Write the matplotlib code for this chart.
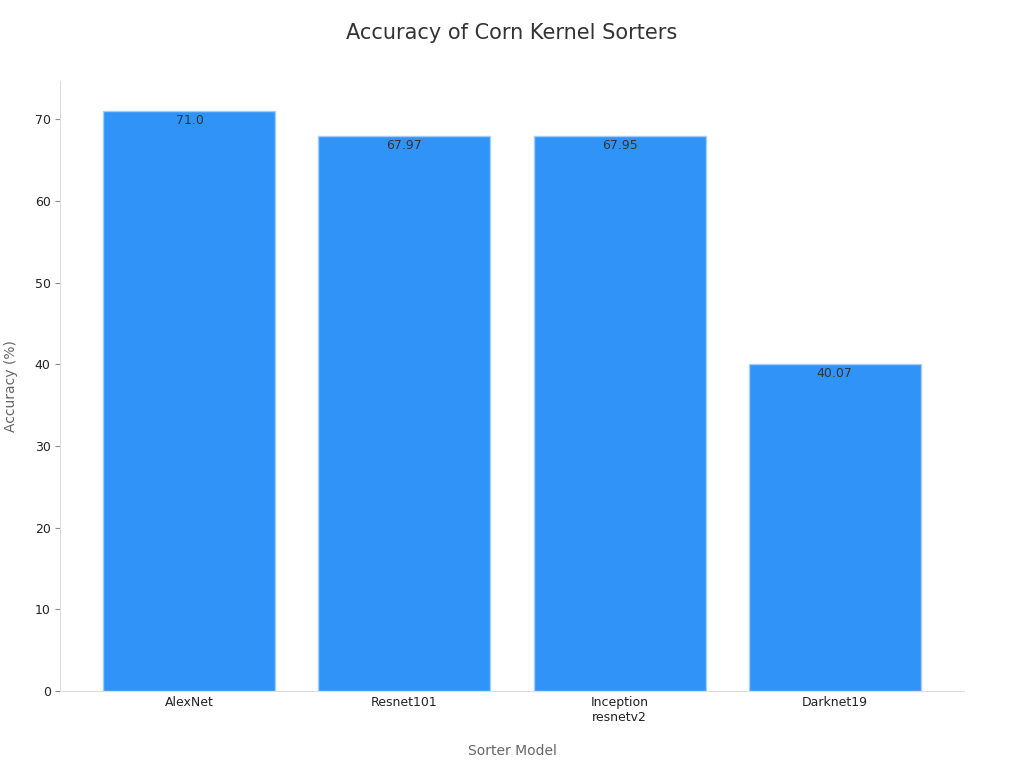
import matplotlib.pyplot as plt

models = ['AlexNet', 'Resnet101', 'Inception\nresnetv2', 'Darknet19']
accuracy = [71.0, 67.97, 67.95, 40.07]
labels = ['71.0', '67.97', '67.95', '40.07']

plt.rcParams['font.family'] = ['DejaVu Sans']
fig = plt.figure(figsize=(10.24, 7.68), dpi=100)
ax = fig.add_axes([0.059, 0.1, 0.882, 0.795])

bars = ax.bar(range(len(models)), accuracy, width=0.8, color='#2f93f8',
              edgecolor='#a8cdf5', linewidth=1)
for b, t in zip(bars, labels):
    ax.text(b.get_x() + b.get_width() / 2, b.get_height() - 0.4, t,
            ha='center', va='top', fontsize=9, color='#333333')

ax.set_xticks(range(len(models)))
ax.set_xticklabels(models, fontsize=9, color='#222222')
ax.set_xlim(-0.6, 3.6)
ax.set_ylim(0, 74.7)
ax.set_yticks(range(0, 71, 10))
ax.tick_params(axis='y', labelsize=9, colors='#222222')
ax.tick_params(axis='x', length=0)
ax.tick_params(axis='y', color='#888888')
for s in ['top', 'right']:
    ax.spines[s].set_visible(False)
for s in ['left', 'bottom']:
    ax.spines[s].set_color('#dddddd')
ax.set_xlabel('Sorter Model', fontsize=10, color='#666666', labelpad=14)
ax.set_ylabel('Accuracy (%)', fontsize=10, color='#666666', labelpad=12)
fig.suptitle('Accuracy of Corn Kernel Sorters', fontsize=15, color='#333333', y=0.97)

fig.savefig('out.png')
